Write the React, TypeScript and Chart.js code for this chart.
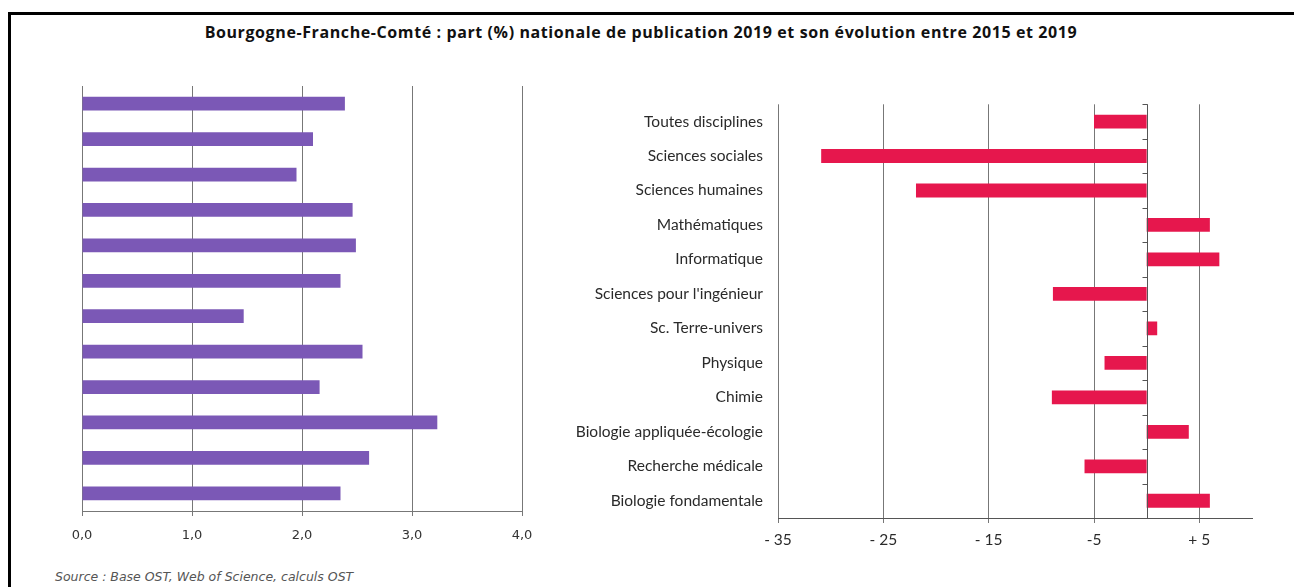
import React, { useEffect, useRef } from 'react';
import { Chart, registerables } from 'chart.js';

Chart.register(...registerables);

// ---- Data ----
const categories = [
  'Toutes disciplines',
  'Sciences sociales',
  'Sciences humaines',
  'Mathématiques',
  'Informatique',
  "Sciences pour l'ingénieur",
  'Sc. Terre-univers',
  'Physique',
  'Chimie',
  'Biologie appliquée-écologie',
  'Recherche médicale',
  'Biologie fondamentale',
];

// Part (%) nationale de publication 2019
const shareValues = [2.39, 2.1, 1.95, 2.46, 2.49, 2.35, 1.47, 2.55, 2.16, 3.23, 2.61, 2.35];

// Evolution (%) 2015-2019
const evolutionValues = [-5.0, -30.9, -21.9, 6.0, 6.9, -8.9, 1.0, -4.0, -9.0, 4.0, -5.9, 6.0];

const shareTicks = [0, 1, 2, 3, 4];
const shareTickLabels = ['0,0', '1,0', '2,0', '3,0', '4,0'];

const evolutionTicks = [-35, -25, -15, -5, 5];
const evolutionTickLabels = ['- 35', '- 25', '- 15', '-5', '+ 5'];

const TITLE =
  'Bourgogne-Franche-Comté : part (%) nationale de publication 2019 et son évolution entre 2015 et 2019';
const SOURCE = 'Source : Base OST, Web of Science, calculs OST';

const PURPLE = '#7b58b6';
const RED = '#e6174d';
const GRID = '#777';

const zeroAxisPlugin = {
  id: 'zeroAxis',
  afterDatasetsDraw(chart: any) {
    const { ctx, chartArea, scales } = chart;
    const x0 = Math.round(scales.x.getPixelForValue(0)) + 0.5;
    const n = categories.length;
    const h = chartArea.bottom - chartArea.top;
    ctx.save();
    ctx.strokeStyle = '#555';
    ctx.lineWidth = 1;
    ctx.beginPath();
    ctx.moveTo(x0, chartArea.top);
    ctx.lineTo(x0, chartArea.bottom);
    for (let i = 0; i <= n; i++) {
      const y = Math.round(chartArea.top + (i * h) / n) + 0.5;
      ctx.moveTo(x0 - 5, y);
      ctx.lineTo(x0, y);
    }
    ctx.stroke();
    ctx.restore();
  },
};

function LeftChart() {
  const ref = useRef<HTMLCanvasElement>(null);
  useEffect(() => {
    if (!ref.current) return;
    const chart = new Chart(ref.current, {
      type: 'bar',
      data: {
        labels: categories,
        datasets: [
          {
            data: shareValues,
            backgroundColor: PURPLE,
            borderWidth: 0,
            barPercentage: 0.39,
            categoryPercentage: 1,
          },
        ],
      },
      options: {
        indexAxis: 'y',
        animation: false,
        responsive: false,
        maintainAspectRatio: false,
        layout: { padding: { left: 42, top: 26, right: 38, bottom: 0 } },
        plugins: { legend: { display: false }, tooltip: { enabled: false }, title: { display: false } },
        scales: {
          y: { display: false },
          x: {
            min: 0,
            max: 4,
            afterBuildTicks: (scale: any) => {
              scale.ticks = shareTicks.map((v) => ({ value: v }));
            },
            afterFit: (scale: any) => {
              scale.height = 42;
            },
            grid: { color: GRID, lineWidth: 1, tickLength: 5, drawOnChartArea: true },
            border: { display: true, color: GRID },
            ticks: {
              padding: 12,
              color: '#333',
              font: { family: 'DejaVu Sans', size: 13 },
              callback: (_v: any, i: number) => shareTickLabels[i],
              maxRotation: 0,
            },
          },
        },
      },
    } as any);
    return () => chart.destroy();
  }, []);
  return (
    <canvas
      ref={ref}
      width={520}
      height={493}
      style={{ position: 'absolute', left: 40, top: 60, width: 520, height: 493 }}
    />
  );
}

function RightChart() {
  const ref = useRef<HTMLCanvasElement>(null);
  useEffect(() => {
    if (!ref.current) return;
    const chart = new Chart(ref.current, {
      type: 'bar',
      data: {
        labels: categories,
        datasets: [
          {
            data: evolutionValues,
            backgroundColor: RED,
            borderWidth: 0,
            barPercentage: 0.4,
            categoryPercentage: 1,
          },
        ],
      },
      plugins: [zeroAxisPlugin],
      options: {
        indexAxis: 'y',
        animation: false,
        responsive: false,
        maintainAspectRatio: false,
        layout: { padding: { left: 0, top: 20, right: 42, bottom: 0 } },
        plugins: { legend: { display: false }, tooltip: { enabled: false }, title: { display: false } },
        scales: {
          y: {
            afterFit: (scale: any) => {
              scale.width = 218;
            },
            grid: { display: false, drawTicks: false },
            border: { display: false },
            ticks: {
              padding: 15,
              color: '#2a2a2a',
              font: { family: 'Lato', size: 15.5 },
            },
          },
          x: {
            min: -35,
            max: 10,
            afterBuildTicks: (scale: any) => {
              scale.ticks = evolutionTicks.map((v) => ({ value: v }));
            },
            afterFit: (scale: any) => {
              scale.height = 42;
            },
            grid: { color: GRID, lineWidth: 1, tickLength: 5 },
            border: { display: true, color: '#555' },
            ticks: {
              padding: 8,
              color: '#2a2a2a',
              font: { family: 'Lato', size: 15.5 },
              callback: (_v: any, i: number) => evolutionTickLabels[i],
              maxRotation: 0,
            },
          },
        },
      },
    } as any);
    return () => chart.destroy();
  }, []);
  return (
    <canvas
      ref={ref}
      width={734}
      height={480}
      style={{ position: 'absolute', left: 560, top: 80, width: 734, height: 480 }}
    />
  );
}

export default function App() {
  return (
    <div
      style={{
        position: 'absolute',
        left: 0,
        top: 0,
        width: 1294,
        height: 587,
        overflow: 'hidden',
        background: '#fff',
      }}
    >
      <div style={{ position: 'absolute', left: 8, top: 12, width: 1286, height: 3, background: '#000' }} />
      <div style={{ position: 'absolute', left: 8, top: 12, width: 3, height: 575, background: '#000' }} />
      <div
        style={{
          position: 'absolute',
          left: 641 - 500,
          width: 1000,
          top: 21,
          textAlign: 'center',
          fontFamily: 'Open Sans',
          fontWeight: 700,
          fontSize: 16,
          letterSpacing: 0.6,
          color: '#111',
          whiteSpace: 'nowrap',
        }}
      >
        {TITLE}
      </div>
      <LeftChart />
      <RightChart />
      <div
        style={{
          position: 'absolute',
          left: 55,
          top: 569,
          fontFamily: 'DejaVu Sans',
          fontStyle: 'italic',
          fontSize: 12.5,
          color: '#555',
          whiteSpace: 'nowrap',
        }}
      >
        {SOURCE}
      </div>
    </div>
  );
}
